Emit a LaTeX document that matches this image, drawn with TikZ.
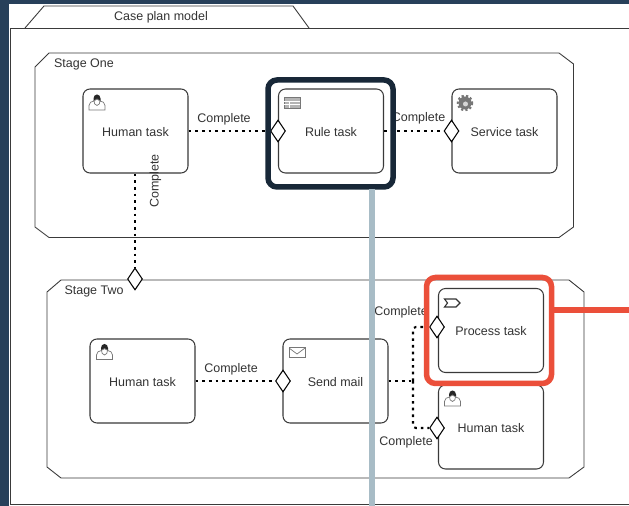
\documentclass[tikz,border=0pt]{standalone}
\usepackage{fontspec}
\setmainfont{Liberation Sans}
\usetikzlibrary{shapes.geometric}
\definecolor{pagebg}{HTML}{27405A}
\definecolor{darkbox}{HTML}{182838}
\definecolor{redbox}{HTML}{EB4F3A}
\definecolor{greyline}{HTML}{A8BCC6}
\definecolor{linecol}{HTML}{3A3A3A}
\definecolor{iconcol}{HTML}{777777}
\tikzset{
    task/.style={draw=linecol, fill=white, line width=0.6pt, rounded corners=4pt},
    plan/.style={draw=linecol, fill=white, line width=0.5pt},
    sentry/.style={diamond, draw=black, fill=white, line width=0.6pt, inner sep=0pt, minimum width=15\pxu, minimum height=22\pxu, aspect=0.7},
    lbl/.style={inner sep=0pt, text=black!80, font=\fontsize{7.1}{8.5}\selectfont},
    dots/.style={draw=black, line width=1.2pt, dash pattern=on 1.5pt off 2.3pt},
    icon/.style={draw=iconcol, line width=0.7\pxu},
    human/.pic={
        \draw[icon, fill=white] (-8,7.5) to (-8,3) to[out=90, in=180] (-3,-1.5) to (3,-1.5) to[out=0, in=90] (8,3) to (8,7.5) to cycle;
        \fill[black!85] (-3.5,-1) to (-3.5,-4) to[out=90, in=180] (0,-8) to[out=0, in=90] (3.5,-4) to (3.5,-1) to cycle;
        \draw[icon, fill=white] (-3,-2) to[out=-60, in=180] (0,-3.5) to[out=0, in=-120] (3,-2) to[out=-90, in=0] (0,3) to[out=180, in=-90] cycle;
    }
}
\newcommand{\pxu}{*0.02cm}
\begin{document}
\begin{tikzpicture}[x=0.02cm, y=-0.02cm]
    \useasboundingbox (0,0) rectangle (629,506);
    \fill[pagebg] (0,0) rectangle (629,506);
    \fill[white] (9,4) rectangle (629,506);
    % case plan frame
    \draw[plan] (629,28) to (10.5,28) to (10.5,504.5) to (629,504.5);
    \draw[plan] (25,28) to (44,6) to (293,6) to (309,28);
    \node[lbl] (casename) at (161,17) {Case plan model};
    % stages
    \draw[plan] (49,53) to (559,53) to (573.5,64) to (573.5,227) to (559,237.5) to (49,237.5) to (35,227) to (35,67) to cycle;
    \draw[plan] (61,280) to (569,280) to (584,292) to (584,467) to (569,478) to (61,478) to (47,467) to (47,292) to cycle;
    \node[lbl] (stageone) at (84,64.5) {Stage One};
    \node[lbl] (stagetwo) at (94,291) {Stage Two};
    % tasks
    \node[task, minimum width=105\pxu, minimum height=84\pxu] (human1) at (135.5,131) {};
    \node[task, minimum width=105\pxu, minimum height=84\pxu] (rule) at (331,131) {};
    \node[task, minimum width=105\pxu, minimum height=84\pxu] (service) at (504.5,131) {};
    \node[task, minimum width=105\pxu, minimum height=84\pxu] (human2) at (142.5,381) {};
    \node[task, minimum width=105\pxu, minimum height=84\pxu] (mail) at (335.5,381) {};
    \node[task, minimum width=105\pxu, minimum height=84\pxu] (process) at (491,330.5) {};
    \node[task, minimum width=105\pxu, minimum height=84\pxu] (human3) at (491,427) {};
    \node[lbl] (human1text) at (135.5,132) {Human task};
    \node[lbl] (ruletext) at (331,132) {Rule task};
    \node[lbl] (servicetext) at (504.5,132) {Service task};
    \node[lbl] (human2text) at (142.5,382) {Human task};
    \node[lbl] (mailtext) at (335.5,382) {Send mail};
    \node[lbl] (processtext) at (491,331) {Process task};
    \node[lbl] (human3text) at (491,428) {Human task};
    % icons
    \pic at (97,102.5) {human};
    \pic at (104.5,352) {human};
    \pic at (452.5,398.5) {human};
    \draw[icon, fill=iconcol!55] (284,97) rectangle (300,108);
    \draw[white, line width=0.8\pxu] (284,101) to (300,101) (284,104.5) to (300,104.5) (289,101) to (289,108);
    \draw[icon] (289,348) to (297,354) to (305,348);
    \draw[icon] (289,347) rectangle (305,357);
    \draw[black!80, line width=1.1\pxu] (444.5,299) to (456,299) to (460,303) to (456,307) to (444.5,307) to (447.5,303) to cycle;
    \fill[iconcol] (465,103) circle (6.5);
    \draw[iconcol, line width=2.5\pxu, dash pattern=on 1.2pt off 1.2pt] (465,103) circle (7);
    \fill[white!70!iconcol] (465.5,104) circle (2.5);
    % sentries
    \node[sentry] (rulein) at (278,131) {};
    \node[sentry] (servicein) at (451.5,131) {};
    \node[sentry] (stagein) at (135,279) {};
    \node[sentry] (mailin) at (283,381) {};
    \node[sentry] (processin) at (437,327) {};
    \node[sentry] (humanin) at (437,428) {};
    \coordinate (fork) at (413,381);
    \coordinate (forkup) at (413,327);
    \coordinate (forkdown) at (413,428);
    % connectors
    \draw[dots] (human1.east |- rulein) to (rulein.west);
    \draw[dots] (rule.east |- servicein) to (servicein.west);
    \draw[dots] (human1.south -| stagein) to (stagein.north);
    \draw[dots] (human2.east |- mailin) to (mailin.west);
    \draw[dots] (mail.east |- fork) to (fork);
    \draw[dots, rounded corners=3\pxu] (fork) to (forkup) to (processin.west);
    \draw[dots, rounded corners=3\pxu] (fork) to (forkdown) to (humanin.west);
    % edge labels
    \node[lbl] (label1) at (224,119) {Complete};
    \node[lbl] (label2) at (418.5,118) {Complete};
    \node[lbl, rotate=90] (label3) at (155.5,181) {Complete};
    \node[lbl] (label4) at (231,369) {Complete};
    \node[lbl] (label5) at (401,312.5) {Complete};
    \node[lbl] (label6) at (406,442) {Complete};
    % callouts
    \coordinate (greyend) at (372,506);
    \coordinate (redend) at (629,310);
    \node[draw=darkbox, line width=5.5\pxu, rounded corners=9\pxu, minimum width=125\pxu, minimum height=107\pxu] (rulemark) at (330.5,133.5) {};
    \node[draw=redbox, line width=5.5\pxu, rounded corners=9\pxu, minimum width=125\pxu, minimum height=106\pxu] (processmark) at (489,330.5) {};
    \draw[greyline, line width=5.5\pxu] (372,189) to (greyend);
    \draw[redbox, line width=5.5\pxu] (554,310) to (redend);
\end{tikzpicture}
\end{document}
